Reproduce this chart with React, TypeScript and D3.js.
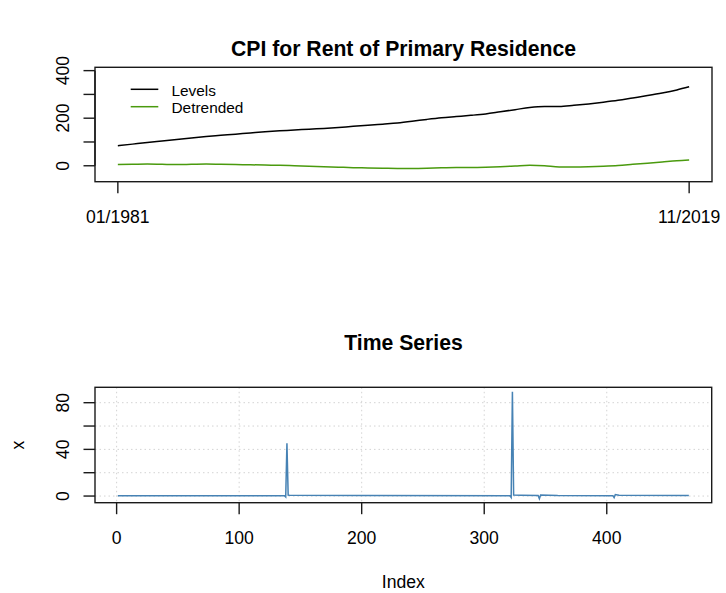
import React from "react";
import * as d3 from "d3";

// ---------- Top panel data (annual readings, Jan of each year, plus Nov 2019) ----------
const periods: string[] = [
  "1981-01","1982-01","1983-01","1984-01","1985-01","1986-01","1987-01","1988-01","1989-01","1990-01",
  "1991-01","1992-01","1993-01","1994-01","1995-01","1996-01","1997-01","1998-01","1999-01","2000-01",
  "2001-01","2002-01","2003-01","2004-01","2005-01","2006-01","2007-01","2008-01","2009-01","2010-01",
  "2011-01","2012-01","2013-01","2014-01","2015-01","2016-01","2017-01","2018-01","2019-01","2019-11",
];
const levels: number[] = [
  84, 91, 98, 104, 110, 117, 123, 128, 133, 138,
  143, 147, 150, 154, 157, 161, 166, 170, 175, 180,
  187, 195, 202, 207, 212, 218, 227, 236, 245, 249,
  249, 254, 260, 267, 275, 285, 295, 306, 319, 332,
];
const detrended: number[] = [
  5, 6, 7, 6, 5, 6, 7, 6, 5, 4,
  3, 2, 0, -2, -4, -6, -8, -9, -10, -11,
  -11, -10, -8, -7, -7, -6, -4, -1, 2, 0,
  -5, -5, -4, -2, 1, 6, 11, 16, 21, 24,
];
const topXTickLabels: string[] = ["01/1981", "11/2019"];
const topYTicks: number[] = [0, 100, 200, 300, 400];
const topYLabels: number[] = [0, 200, 400];
const legendLabels: string[] = ["Levels", "Detrended"];

// ---------- Bottom panel data (index, value) breakpoints of the series ----------
const seriesIndex: number[] = [
  1, 137, 138, 139, 140, 141, 200, 321, 322, 323, 324, 330, 344, 345, 346, 360, 405, 406, 407, 410, 467,
];
const seriesValue: number[] = [
  0.3, 0.3, -0.8, 45.3, 0.8, 0.6, 0.4, 0.3, -1.2, 89.4, 0.8, 0.6, 0.4, -2.3, 0.9, 0.4, 0.3, -1.3, 1.3, 0.7, 0.5,
];
const botXTicks: number[] = [0, 100, 200, 300, 400];
const botYTicks: number[] = [0, 20, 40, 60, 80];
const botYLabels: number[] = [0, 40, 80];

const FONT = "'Liberation Sans', Arial, Helvetica, sans-serif";
const AXIS_FS = 17.6;
const TITLE_FS = 21.2;
const BOX = "#1a1a1a";

function monthIndex(p: string): number {
  const [y, m] = p.split("-").map(Number);
  return (y - 1981) * 12 + (m - 1);
}

export default function App() {
  // ---------- top panel scales ----------
  const t = periods.map(monthIndex);
  const tMax = d3.max(t) as number;
  const pad = 0.04 * tMax;
  const L = 95, R = 712;
  const xTop = d3.scaleLinear().domain([-pad, tMax + pad]).range([L, R]);
  const topT = 67.3, topB = 181.7;
  const yTop = d3.scaleLinear().domain([-67, 414]).range([topB, topT]);

  const lineTop = d3
    .line<number>()
    .x((_, i) => xTop(t[i]))
    .y((d) => yTop(d))
    .curve(d3.curveMonotoneX);

  // ---------- bottom panel scales ----------
  const n = d3.max(seriesIndex) as number;
  const bpad = 0.04 * (n - 1);
  const xBot = d3.scaleLinear().domain([1 - bpad, n + bpad]).range([L, 711.7]);
  const botT = 387.3, botB = 502.7;
  const yBot = d3.scaleLinear().domain([-5.7, 93.2]).range([botB, botT]);
  const lineBot = d3
    .line<number>()
    .x((_, i) => xBot(seriesIndex[i]))
    .y((d) => yBot(d));

  const tick = 11.5;
  const cx = (L + R) / 2;

  return (
    <svg width={726} height={593} style={{ display: "block", position: "absolute", left: 0, top: 0 }} fontFamily={FONT}>
      <rect x={0} y={0} width={726} height={593} fill="#fff" />

      {/* ===== Top panel ===== */}
      <text x={cx} y={56} textAnchor="middle" fontWeight="bold" fontSize={TITLE_FS} fill="#000">
        CPI for Rent of Primary Residence
      </text>
      <path d={lineTop(levels) || ""} fill="none" stroke="#000" strokeWidth={1.5} />
      <path d={lineTop(detrended) || ""} fill="none" stroke="#4a9a0e" strokeWidth={1.5} />
      <rect x={L} y={topT} width={R - L} height={topB - topT} fill="none" stroke={BOX} strokeWidth={1.4} />
      {/* y axis */}
      <line x1={L} x2={L} y1={yTop(0)} y2={yTop(400)} stroke={BOX} strokeWidth={1.4} />
      {topYTicks.map((v) => (
        <line key={"ty" + v} x1={L - tick} x2={L} y1={yTop(v)} y2={yTop(v)} stroke={BOX} strokeWidth={1.4} />
      ))}
      {topYLabels.map((v) => (
        <text key={"tyl" + v} transform={`translate(68.5,${yTop(v)}) rotate(-90)`} textAnchor="middle" fontSize={AXIS_FS} fill="#000">
          {v}
        </text>
      ))}
      {/* x axis */}
      {[t[0], tMax].map((v, i) => (
        <g key={"tx" + i}>
          <line x1={xTop(v)} x2={xTop(v)} y1={topB} y2={topB + tick} stroke={BOX} strokeWidth={1.4} />
          <text x={xTop(v)} y={222.5} textAnchor="middle" fontSize={AXIS_FS} fill="#000">
            {topXTickLabels[i]}
          </text>
        </g>
      ))}
      {/* legend */}
      {legendLabels.map((lab, i) => (
        <g key={lab}>
          <line x1={130.7} x2={158.3} y1={89.3 + i * 17.4} y2={89.3 + i * 17.4} stroke={i === 0 ? "#000" : "#4a9a0e"} strokeWidth={1.5} />
          <text x={171.5} y={95.6 + i * 17.5} fontSize={15.4} fill="#000">
            {lab}
          </text>
        </g>
      ))}

      {/* ===== Bottom panel ===== */}
      <text x={cx} y={350} textAnchor="middle" fontWeight="bold" fontSize={TITLE_FS} fill="#000">
        Time Series
      </text>
      {/* grid */}
      {botXTicks.map((v) => (
        <line key={"gx" + v} x1={xBot(v)} x2={xBot(v)} y1={botT} y2={botB} stroke="#d3d3d3" strokeWidth={1} strokeDasharray="1.5,3" />
      ))}
      {botYTicks.map((v) => (
        <line key={"gy" + v} x1={L} x2={711.7} y1={yBot(v)} y2={yBot(v)} stroke="#d3d3d3" strokeWidth={1} strokeDasharray="1.5,3" />
      ))}
      <path d={lineBot(seriesValue) || ""} fill="none" stroke="#4682b4" strokeWidth={1.5} />
      <rect x={L} y={botT} width={711.7 - L} height={botB - botT} fill="none" stroke={BOX} strokeWidth={1.4} />
      {botYTicks.map((v) => (
        <line key={"by" + v} x1={L - tick} x2={L} y1={yBot(v)} y2={yBot(v)} stroke={BOX} strokeWidth={1.4} />
      ))}
      {botYLabels.map((v) => (
        <text key={"byl" + v} transform={`translate(68.5,${yBot(v)}) rotate(-90)`} textAnchor="middle" fontSize={AXIS_FS} fill="#000">
          {v}
        </text>
      ))}
      {botXTicks.map((v) => (
        <g key={"bx" + v}>
          <line x1={xBot(v)} x2={xBot(v)} y1={botB} y2={botB + tick} stroke={BOX} strokeWidth={1.4} />
          <text x={xBot(v)} y={543.5} textAnchor="middle" fontSize={AXIS_FS} fill="#000">
            {v}
          </text>
        </g>
      ))}
      <text x={(L + 711.7) / 2} y={587.5} textAnchor="middle" fontSize={AXIS_FS} fill="#000">
        Index
      </text>
      <text transform={`translate(23.5,${(botT + botB) / 2}) rotate(-90)`} textAnchor="middle" fontSize={AXIS_FS} fill="#000">
        x
      </text>
    </svg>
  );
}
